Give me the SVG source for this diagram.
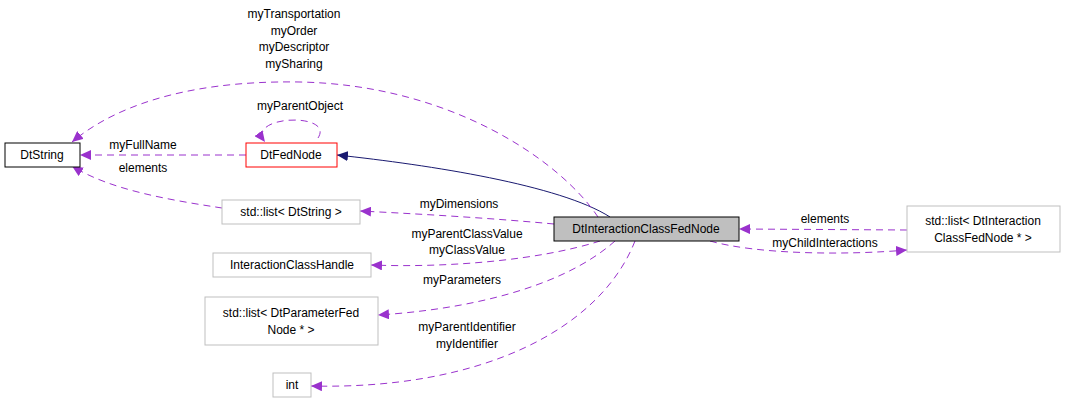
<svg xmlns="http://www.w3.org/2000/svg" width="1067" height="405" viewBox="0 0 1067 405">
<style>
text{font-family:"Liberation Sans",Arial,sans-serif;font-size:12px;fill:#000}
.n text{text-anchor:middle}
.l{text-anchor:middle}
.e{fill:none;stroke:#9a32cd;stroke-dasharray:7,5;stroke-width:1}
</style>
<defs>
<marker id="p" markerWidth="12" markerHeight="10" refX="11" refY="5" orient="auto" markerUnits="userSpaceOnUse"><path d="M0,0 L11,5 L0,10 Z" fill="#9a32cd"/></marker>
<marker id="b" markerWidth="12" markerHeight="10" refX="11" refY="5" orient="auto" markerUnits="userSpaceOnUse"><path d="M0,0 L11,5 L0,10 Z" fill="#191970"/></marker>
</defs>
<rect width="1067" height="405" fill="#fff"/>
<g id="edges">
<path d="M610,217 C560,185 430,165 337,155" fill="none" stroke="#191970" marker-end="url(#b)"/>
<path class="e" d="M598,217 C560,160 450,85 300,82 C180,80 110,110 72,142" marker-end="url(#p)"/>
<path class="e" d="M246,155 L80,155" marker-end="url(#p)"/>
<path class="e" d="M318,138 C335,112 245,115 265,142" marker-end="url(#p)"/>
<path class="e" d="M222,208 C170,200 110,190 72,166" marker-end="url(#p)"/>
<path class="e" d="M554,224 C490,218 420,214 360,211" marker-end="url(#p)"/>
<path class="e" d="M600,241 C540,260 450,268 371,265" marker-end="url(#p)"/>
<path class="e" d="M615,241 C560,290 460,310 378,315" marker-end="url(#p)"/>
<path class="e" d="M635,241 C600,330 480,390 311,386" marker-end="url(#p)"/>
<path class="e" d="M907,230 L739,229" marker-end="url(#p)"/>
<path class="e" d="M710,241 C760,255 850,255 907,250" marker-end="url(#p)"/>
</g>
<g id="labels">
<text class="l" x="294" y="18">myTransportation</text>
<text class="l" x="294" y="35">myOrder</text>
<text class="l" x="294" y="51">myDescriptor</text>
<text class="l" x="294" y="68">mySharing</text>
<text class="l" x="300" y="110">myParentObject</text>
<text class="l" x="143" y="149">myFullName</text>
<text class="l" x="143" y="172">elements</text>
<text class="l" x="459" y="208">myDimensions</text>
<text class="l" x="467" y="238">myParentClassValue</text>
<text class="l" x="467" y="254">myClassValue</text>
<text class="l" x="462" y="284">myParameters</text>
<text class="l" x="467" y="331">myParentIdentifier</text>
<text class="l" x="467" y="348">myIdentifier</text>
<text class="l" x="825" y="223">elements</text>
<text class="l" x="825" y="247">myChildInteractions</text>
</g>
<g id="DtString" class="n"><rect x="5" y="143" width="75" height="24" fill="#fff" stroke="#000"/><text x="42" y="159">DtString</text></g>
<g id="DtFedNode" class="n"><rect x="246" y="143" width="91" height="24" fill="#fff" stroke="#f00"/><text x="291" y="159">DtFedNode</text></g>
<g id="ListDtString" class="n"><rect x="222" y="200" width="138" height="24" fill="#fff" stroke="#bfbfbf"/><text x="291" y="216">std::list&lt; DtString &gt;</text></g>
<g id="DtInteractionClassFedNode" class="n"><rect x="554" y="217" width="185" height="24" fill="#bfbfbf" stroke="#000"/><text x="646" y="233">DtInteractionClassFedNode</text></g>
<g id="InteractionClassHandle" class="n"><rect x="213" y="253" width="158" height="24" fill="#fff" stroke="#bfbfbf"/><text x="292" y="269">InteractionClassHandle</text></g>
<g id="ListParam" class="n"><rect x="205" y="297" width="173" height="48" fill="#fff" stroke="#bfbfbf"/><text x="291" y="317">std::list&lt; DtParameterFed</text><text x="291" y="334">Node * &gt;</text></g>
<g id="int" class="n"><rect x="273" y="373" width="38" height="24" fill="#fff" stroke="#bfbfbf"/><text x="292" y="389">int</text></g>
<g id="ListInter" class="n"><rect x="907" y="206" width="153" height="46" fill="#fff" stroke="#bfbfbf"/><text x="983" y="225">std::list&lt; DtInteraction</text><text x="983" y="242">ClassFedNode * &gt;</text></g>
</svg>
